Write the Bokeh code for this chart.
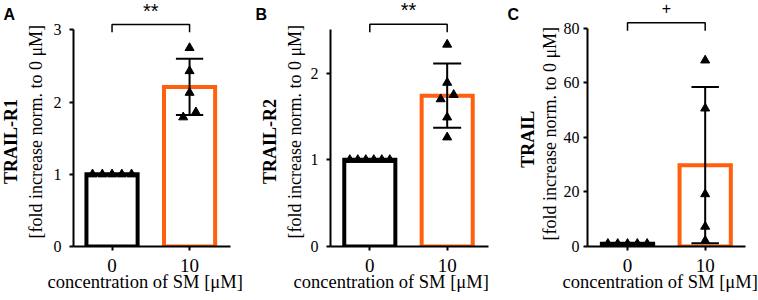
import math
from bokeh.plotting import figure
from bokeh.models import Range1d, FixedTicker, Title
from bokeh.core.properties import value
from bokeh.layouts import row
from bokeh.embed import file_html
from bokeh.resources import INLINE

# ---------------- data ----------------
categories = ["0", "10"]
x_title = "concentration of SM [μM]"
y_unit = "[fold increase norm. to 0 μM]"
panel_letters = ["A", "B", "C"]
proteins = ["TRAIL-R1", "TRAIL-R2", "TRAIL"]
significance = ["**", "**", "+"]

a_means = [1.00, 2.21]
a_sd = [0.0, 0.39]
a_pts_0 = [1.0, 1.0, 1.0, 1.0, 1.0]
a_pts_10 = [2.75, 2.43, 2.13, 1.79, 1.86]
a_yticks = [0, 1, 2, 3]
a_ymax = 3

b_means = [1.00, 1.74]
b_sd = [0.0, 0.37]
b_pts_0 = [1.0, 1.0, 1.0, 1.0, 1.0, 1.0]
b_pts_10 = [2.33, 1.89, 1.70, 1.75, 1.49, 1.26]
b_yticks = [0, 1, 2]
b_ymax = 2.5

c_means = [1.0, 29.8]
c_sd = [0.0, 28.6]
c_pts_0 = [1.0, 1.0, 1.0, 1.0, 1.0]
c_pts_10 = [68.2, 50.6, 19.2, 7.3, 2.1]
c_yticks = [0, 20, 40, 60, 80]
c_ymax = 80

# ---------------- style ----------------
H = 300
BAR_COLORS = ["#000000", "#FF5F0F"]
SERIF = "Liberation Serif"
SANS = "Liberation Sans"


def swarm_offsets(vals, ppy, ppx, thresh_px=8.0):
    n = len(vals)
    order = sorted(range(n), key=lambda i: vals[i])
    clusters = []
    for i in order:
        if clusters and (vals[i] - vals[clusters[-1][-1]]) * ppy <= thresh_px:
            clusters[-1].append(i)
        else:
            clusters.append([i])
    off = [0.0] * n
    for cl in clusters:
        k = len(cl)
        if k < 2:
            continue
        step = min(13.0, 40.0 / (k - 1))
        for j, idx in enumerate(cl):
            off[idx] = (j - (k - 1) / 2.0) * step / ppx
    return off


def make_strip(spec):
    w = spec["strip_w"]
    s = figure(width=w, height=H, output_backend="svg", toolbar_location=None,
               x_range=Range1d(0, w), y_range=Range1d(0, H),
               min_border_left=0, min_border_right=0, min_border_top=0,
               min_border_bottom=0, x_axis_type=None, y_axis_type=None)
    s.outline_line_color = None
    s.xgrid.grid_line_color = None
    s.ygrid.grid_line_color = None
    lx, lb = spec["letter"]
    s.text(x=[lx], y=[H - lb], text=[spec["letter_text"]], text_font=value(SANS),
           text_font_style="bold", text_font_size="16px", text_align="left",
           text_baseline="alphabetic", text_color="black")
    px_, py_ = spec["prot_pos"]
    s.text(x=[px_], y=[H - py_], text=[spec["protein"]], text_font=value(SERIF),
           text_font_style="bold", text_font_size="18px", angle=math.pi / 2,
           text_align="center", text_baseline="middle", text_color="black")
    return s


def make_panel(spec):
    W = spec["width"]
    bl, br, bt, bb = spec["borders"]
    xs, xe = spec["xr"]
    ye = spec["ye"]
    fw = W - bl - br
    fh = H - bt - bb
    ppx = fw / (xe - xs)
    ppy = fh / ye

    p = figure(width=W, height=H, output_backend="svg", toolbar_location=None,
               x_range=Range1d(xs, xe), y_range=Range1d(0, ye),
               min_border_left=bl, min_border_right=br,
               min_border_top=bt, min_border_bottom=bb)
    p.outline_line_color = None
    p.background_fill_color = "white"
    p.border_fill_color = "white"
    p.xgrid.grid_line_color = None
    p.ygrid.grid_line_color = None

    # axes
    yax = p.yaxis[0]
    yax.ticker = FixedTicker(ticks=spec["yticks"])
    yax.bounds = (0, spec["ymax"])
    yax.axis_line_width = 2
    yax.major_tick_line_width = 2
    yax.major_tick_out = 4
    yax.major_tick_in = 0
    yax.minor_tick_line_color = None
    yax.major_label_text_font = SERIF
    yax.major_label_text_font_size = "16px"
    yax.major_label_text_color = "black"
    yax.major_label_standoff = spec["ystand"]

    xax = p.xaxis[0]
    xax.ticker = FixedTicker(ticks=[0, 1])
    xax.major_label_overrides = {i: c for i, c in enumerate(categories)}
    xax.axis_line_width = 2
    xax.major_tick_line_width = 2
    xax.major_tick_out = 4
    xax.major_tick_in = 0
    xax.minor_tick_line_color = None
    xax.major_label_text_font = SERIF
    xax.major_label_text_font_size = "19px"
    xax.major_label_text_color = "black"
    xax.major_label_standoff = 8

    # y unit label (rotated, left of the axis)
    p.add_layout(Title(text=y_unit, text_font=SERIF, text_font_size="18px",
                       text_font_style="normal", text_color="black",
                       align="left", vertical_align="middle",
                       offset=spec["unit_off"], standoff=spec["unit_standoff"]), "left")
    # x title (below the axis)
    p.add_layout(Title(text=x_title, text_font=SERIF, text_font_size="18.5px",
                       text_font_style="normal", text_color="black",
                       align="left", vertical_align="top",
                       offset=spec["xt_off"], standoff=spec["xt_standoff"]), "below")

    means, sds = spec["means"], spec["sd"]
    xcat = [0, 1]
    bw = 0.66
    p.vbar(x=xcat, top=means, bottom=0, width=bw, fill_color="white",
           line_color=BAR_COLORS, line_width=4, line_join="miter")

    # error bars
    cap = 28.0 / ppx
    ex, ey0, ey1 = [], [], []
    cx0, cx1, cy = [], [], []
    for i, (m, s) in enumerate(zip(means, sds)):
        if s <= 0:
            continue
        ex.append(xcat[i]); ey0.append(m - s); ey1.append(m + s)
        for v in (m - s, m + s):
            cx0.append(xcat[i] - cap / 2); cx1.append(xcat[i] + cap / 2); cy.append(v)
    p.segment(x0=ex, y0=ey0, x1=ex, y1=ey1, line_color="black", line_width=2)
    p.segment(x0=cx0, y0=cy, x1=cx1, y1=cy, line_color="black", line_width=2)

    # points
    for i, pts in enumerate(spec["pts"]):
        off = swarm_offsets(pts, ppy, ppx)
        p.scatter(x=[xcat[i] + o for o in off], y=pts, marker="triangle", size=9,
                  fill_color="black", line_color="black")

    # significance bracket
    ytop = spec["ymax"] + 5.5 / ppy
    ylow = ytop - 8.0 / ppy
    p.line(x=[0, 0, 1, 1], y=[ylow, ytop, ytop, ylow], line_color="black", line_width=1.5)
    p.text(x=[0.5], y=[ytop + spec["sig_off"] / ppy], text=[spec["sig"]],
           text_font=value(SANS), text_font_size=spec["sig_size"],
           text_align="center", text_baseline="middle", text_color="black")
    return p


specs = [
    dict(strip_w=21, letter=(3, 15), letter_text=panel_letters[0], protein=proteins[0],
         prot_pos=(10.4, 171),
         width=231, borders=(48, 22, 2, 52), xr=(-0.497, 1.528), ye=3.379,
         yticks=a_yticks, ymax=a_ymax, ystand=8, means=a_means, sd=a_sd,
         pts=[a_pts_0, a_pts_10], sig=significance[0], sig_off=13.5, sig_size="20px",
         unit_off=8, unit_standoff=7, xt_off=-26, xt_standoff=-6),
    dict(strip_w=28, letter=(3, 15), letter_text=panel_letters[1], protein=proteins[1],
         prot_pos=(17, 171),
         width=222, borders=(50, 14, 2, 52), xr=(-0.508, 1.534), ye=2.815,
         yticks=b_yticks, ymax=b_ymax, ystand=8, means=b_means, sd=b_sd,
         pts=[b_pts_0, b_pts_10], sig=significance[1], sig_off=14, sig_size="20px",
         unit_off=8, unit_standoff=3, xt_off=-37, xt_standoff=-6),
    dict(strip_w=36, letter=(5, 15), letter_text=panel_letters[2], protein=proteins[2],
         prot_pos=(25, 168),
         width=220, borders=(46, 13, 2, 54), xr=(-0.515, 1.519), ye=89.4,
         yticks=c_yticks, ymax=c_ymax, ystand=4, means=c_means, sd=c_sd,
         pts=[c_pts_0, c_pts_10], sig=significance[2], sig_off=14.5, sig_size="16px",
         unit_off=6, unit_standoff=0, xt_off=-25, xt_standoff=-6),
]

children = []
for s in specs:
    children.append(make_strip(s))
    children.append(make_panel(s))
layout = row(*children, spacing=0)

with open("out.html", "w") as f:
    f.write(file_html(layout, INLINE))
